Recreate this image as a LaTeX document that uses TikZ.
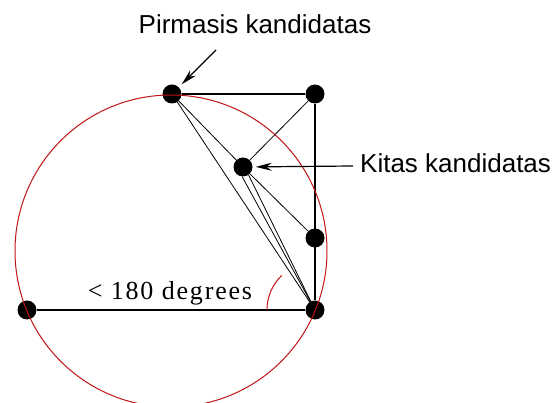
\documentclass[tikz,border=0pt]{standalone}
\usepackage{fontspec}
\setmainfont{Liberation Sans}
\newfontfamily\degfont[LetterSpace=7]{Liberation Serif}
\usetikzlibrary{arrows.meta}
\definecolor{hullred}{RGB}{192,20,20}

\begin{document}
\begin{tikzpicture}[
  x=1pt, y=-1pt,
  font=\fontsize{26}{30}\selectfont,
  dot/.style={circle, fill=black, minimum size=19pt, inner sep=0pt},
  edge/.style={line width=0.8pt},
  frame/.style={line width=1.4pt},
  hull/.style={draw=hullred, line width=1pt},
  arr/.style={-{Stealth[length=16pt,width=8pt]}, line width=1.2pt},
  lbl/.style={inner sep=0pt},
]
\useasboundingbox (0,0) rectangle (558,403);
% points
\node[dot] (P1) at (172,94) {};
\node[dot] (TR) at (315,94) {};
\node[dot] (K) at (243,167) {};
\node[dot] (R2) at (315,238) {};
\node[dot] (BR) at (315,310) {};
\node[dot] (BL) at (27,310) {};
% segments
\draw[frame] (P1) -- (TR);
\draw[frame] (TR) -- (BR);
\draw[frame] (BL) -- (BR);
\draw[edge] (TR) -- (K);
\draw[edge] (P1) -- (K);
\draw[edge] (P1.center) -- (BR.center);
\draw[edge] (K) -- (R2);
\draw[edge] (K.-95) -- (BR.center);
\draw[edge] (K.-55) -- (BR.center);
% circle and angle
\draw[hull] (171,251) circle[radius=156];
\draw[hull] (BR.center) ++(-48,0) arc[start angle=180, end angle=226, radius=48];
\node[lbl, anchor=base, font=\degfont\fontsize{26}{30}\selectfont] (deg) at (170,300) {< 180 degrees};
% labels
\node[lbl, anchor=base] (first) at (255,34) {Pirmasis kandidatas};
\node[lbl, anchor=base west] (next) at (360,173) {Kitas kandidatas};
\coordinate (ftail) at (216,50);
\coordinate (ntail) at (353,166);
\draw[arr, shorten >=4pt] (ftail) -- (P1);
\draw[arr, shorten >=3pt] (ntail) -- (K);
\end{tikzpicture}
\end{document}
